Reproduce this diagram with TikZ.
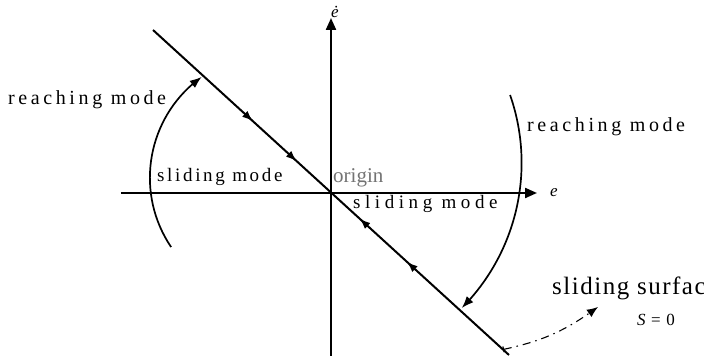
\documentclass[tikz,border=0pt]{standalone}
\usepackage{fontspec}
\setmainfont{Liberation Serif}
\usetikzlibrary{arrows.meta,bending,decorations.markings}

\tikzset{
  axis/.style={line width=2.2pt, -{Triangle[length=12pt,width=10pt]}},
  reacharc/.style={line width=1.7pt, -{Latex[length=12pt,width=9pt,flex]}},
  modetext/.style={inner sep=0pt, anchor=west,
    font=\fontsize{20}{22}\selectfont\addfontfeature{LetterSpace=18}},
  flowmarks/.style={postaction=decorate, decoration={markings,
    mark=at position 0.281 with {\arrow{Latex[length=11pt,width=8pt]}},
    mark=at position 0.404 with {\arrow{Latex[length=11pt,width=8pt]}},
    mark=at position 0.58 with {\arrowreversed{Latex[length=11pt,width=8pt]}},
    mark=at position 0.713 with {\arrowreversed{Latex[length=11pt,width=8pt]}}}},
  surfarrow/.style={line width=1.1pt, dash pattern=on 8pt off 5pt on 1.5pt off 5pt,
    {Bar[width=6pt]}-{Latex[length=11pt,width=9pt]}},
}

\begin{document}
\begin{tikzpicture}[x=1pt, y=1pt]
\useasboundingbox (-331,-170) rectangle (373,193);

% axes
\coordinate (xl) at (-210,0);
\coordinate (xr) at (206,0);
\coordinate (yb) at (0,-163);
\coordinate (yt) at (0,175);
\draw[axis] (xl) -- (xr);
\draw[axis] (yb) -- (yt);
\node[inner sep=0pt, font=\fontsize{17}{19}\selectfont\itshape] (elab) at (223,0) {e};
\node[inner sep=0pt, font=\fontsize{17}{19}\selectfont\itshape] (edlab) at (4,181) {\.{e}};

% sliding surface S = 0
\coordinate (sa) at (-178,163);
\coordinate (sb) at (178,-162);
\draw[line width=2pt, flowmarks] (sa) -- (sb);

% reaching arcs
\coordinate (lc) at (-57.1,15.3);
\coordinate (rc) at (-15.4,30.1);
\draw[reacharc] ([shift={(214:124)}]lc) arc[start angle=214, end angle=125.6, radius=124];
\draw[reacharc] ([shift={(19.25:206)}]rc) arc[start angle=19.25, end angle=-44.8, radius=206];

% labels
\node[modetext] (reachl) at (-323,93) {reaching mode};
\node[modetext] (reachr) at (196,66) {reaching mode};
\node[modetext, font=\fontsize{19}{21}\selectfont\addfontfeature{LetterSpace=14}] (slidel) at (-174,16) {sliding mode};
\node[modetext, font=\fontsize{19}{21}\selectfont\addfontfeature{LetterSpace=24}] (slider) at (22,-11) {sliding mode};
\node[inner sep=0pt, anchor=west, text=black!55, font=\fontsize{21}{23}\selectfont] (orig) at (2,15) {origin};

\node[inner sep=0pt, anchor=west, font=\fontsize{25}{27}\selectfont\addfontfeature{LetterSpace=6}] (surf) at (221,-95) {sliding surface};
\node[inner sep=0pt, font=\fontsize{17}{19}\selectfont] (szero) at (325,-127) {\textit{S}\,\,=\,\,0};
\coordinate (ss) at (172,-156.5);
\coordinate (st) at (267,-114);
\draw[surfarrow] (ss) to[bend right=12] (st);

\end{tikzpicture}
\end{document}
